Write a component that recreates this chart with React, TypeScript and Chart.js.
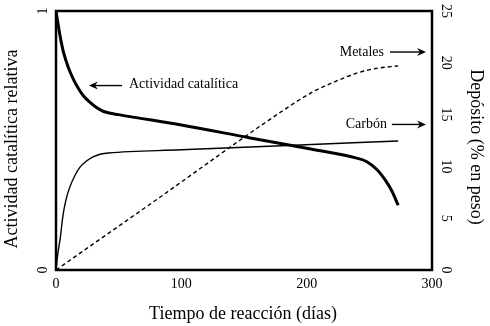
import React, { useEffect, useRef } from "react";
import { Chart, registerables } from "chart.js";

Chart.register(...registerables);

// Actividad catalítica relativa (left axis)
const activityDays = [0, 3, 6, 10, 14, 18, 22, 27, 32, 38, 50, 100, 155, 200, 240, 248, 256, 263, 268, 273];
const activityValues = [1.0, 0.91, 0.84, 0.78, 0.735, 0.70, 0.672, 0.648, 0.628, 0.612, 0.600, 0.560, 0.510, 0.470, 0.432, 0.418, 0.388, 0.345, 0.305, 0.25];

// Carbón (right axis, % en peso)
const carbonDays = [0, 1.5, 3.2, 5.6, 8, 11, 15, 19, 24, 30, 36, 42, 100, 180, 273];
const carbonValues = [0, 1.6, 2.9, 5.3, 6.8, 8.0, 9.1, 9.9, 10.5, 10.95, 11.2, 11.3, 11.6, 12.0, 12.45];

// Metales (right axis, % en peso)
const metalDays = [0, 75, 190, 205, 221, 240, 255, 273];
const metalValues = [0, 6.35, 16.1, 17.2, 18.1, 19.0, 19.45, 19.7];

const xTicks = [0, 100, 200, 300];
const leftTicks = [0, 1];
const rightTicks = [0, 5, 10, 15, 20, 25];

const xTitle = "Tiempo de reacción (días)";
const leftTitle = "Actividad catalítica relativa";
const rightTitle = "Depósito (% en peso)";

const FONT = '"Liberation Serif", "DejaVu Serif", serif';

const toPoints = (xs: number[], ys: number[]) => xs.map((x, i) => ({ x, y: ys[i] }));

function drawArrow(ctx: CanvasRenderingContext2D, x1: number, x2: number, y: number) {
  // from x1 to x2 with head at x2
  const dir = x2 > x1 ? 1 : -1;
  ctx.save();
  ctx.strokeStyle = "#000";
  ctx.fillStyle = "#000";
  ctx.lineWidth = 1.4;
  ctx.beginPath();
  ctx.moveTo(x1, y);
  ctx.lineTo(x2 - dir * 6, y);
  ctx.stroke();
  ctx.beginPath();
  ctx.moveTo(x2, y);
  ctx.lineTo(x2 - dir * 9, y - 4);
  ctx.lineTo(x2 - dir * 6, y);
  ctx.lineTo(x2 - dir * 9, y + 4);
  ctx.closePath();
  ctx.fill();
  ctx.restore();
}

function rotText(ctx: CanvasRenderingContext2D, text: string, x: number, y: number, angle: number) {
  ctx.save();
  ctx.translate(x, y);
  ctx.rotate(angle);
  ctx.textAlign = "center";
  ctx.textBaseline = "middle";
  ctx.fillText(text, 0, 0);
  ctx.restore();
}

const decorPlugin = {
  id: "decor",
  afterDraw(chart: any) {
    const { ctx, chartArea: a, scales } = chart;
    const sx = scales.x;
    const sy = scales.y;
    const sy2 = scales.y2;
    ctx.save();
    // frame
    ctx.strokeStyle = "#000";
    ctx.lineWidth = 2.5;
    ctx.strokeRect(a.left, a.top, a.right - a.left, a.bottom - a.top);

    ctx.fillStyle = "#000";
    // x ticks
    ctx.font = `14px ${FONT}`;
    ctx.textAlign = "center";
    ctx.textBaseline = "middle";
    xTicks.forEach((t) => ctx.fillText(String(t), sx.getPixelForValue(t), a.bottom + 14));
    // left ticks rotated
    leftTicks.forEach((t) => rotText(ctx, String(t), a.left - 13, sy.getPixelForValue(t), -Math.PI / 2));
    // right ticks rotated
    rightTicks.forEach((t) => rotText(ctx, String(t), a.right + 14, sy2.getPixelForValue(t), Math.PI / 2));

    // titles
    ctx.font = `18px ${FONT}`;
    ctx.fillText(xTitle, (a.left + a.right) / 2 - 1, a.bottom + 44);
    rotText(ctx, leftTitle, 12, 149, -Math.PI / 2);
    rotText(ctx, rightTitle, 476, 147, Math.PI / 2);

    // annotations
    ctx.font = `14px ${FONT}`;
    ctx.textBaseline = "middle";
    ctx.textAlign = "left";
    const ay = sy.getPixelForValue(0.716);
    ctx.fillText("Actividad catalítica", sx.getPixelForValue(58.2), ay);
    drawArrow(ctx, sx.getPixelForValue(52.7), sx.getPixelForValue(26.3), ay + 1);

    ctx.textAlign = "right";
    const my = sy2.getPixelForValue(21.04);
    ctx.fillText("Metales", sx.getPixelForValue(261.7), my);
    drawArrow(ctx, sx.getPixelForValue(266.5), sx.getPixelForValue(295.2), my);

    const cy = sy2.getPixelForValue(14.05);
    ctx.fillText("Carbón", sx.getPixelForValue(264), cy);
    drawArrow(ctx, sx.getPixelForValue(268), sx.getPixelForValue(295.2), cy);
    ctx.restore();
  },
};

export default function App() {
  const ref = useRef<HTMLCanvasElement | null>(null);
  useEffect(() => {
    if (!ref.current) return;
    const chart = new Chart(ref.current, {
      type: "line",
      data: {
        datasets: [
          {
            label: "Actividad catalítica",
            data: toPoints(activityDays, activityValues),
            yAxisID: "y",
            borderColor: "#000",
            borderWidth: 3,
            pointRadius: 0,
            cubicInterpolationMode: "monotone",
            fill: false,
          },
          {
            label: "Carbón",
            data: toPoints(carbonDays, carbonValues),
            yAxisID: "y2",
            borderColor: "#000",
            borderWidth: 1.4,
            pointRadius: 0,
            cubicInterpolationMode: "monotone",
            fill: false,
          },
          {
            label: "Metales",
            data: toPoints(metalDays, metalValues),
            yAxisID: "y2",
            borderColor: "#000",
            borderWidth: 1.4,
            borderDash: [4, 3],
            pointRadius: 0,
            cubicInterpolationMode: "monotone",
            fill: false,
          },
        ],
      },
      options: {
        animation: false,
        responsive: false,
        events: [],
        layout: { padding: { left: 56, top: 11, right: 58, bottom: 56 } },
        plugins: { legend: { display: false }, tooltip: { enabled: false } },
        scales: {
          x: { type: "linear", min: 0, max: 300, display: false },
          y: { type: "linear", position: "left", min: 0, max: 1, display: false },
          y2: { type: "linear", position: "right", min: 0, max: 25, display: false },
        },
      },
      plugins: [decorPlugin],
    });
    return () => chart.destroy();
  }, []);
  return (
    <div style={{ position: "fixed", left: 0, top: 0, width: 490, height: 326, background: "#fff" }}>
      <canvas ref={ref} width={490} height={326} />
    </div>
  );
}
